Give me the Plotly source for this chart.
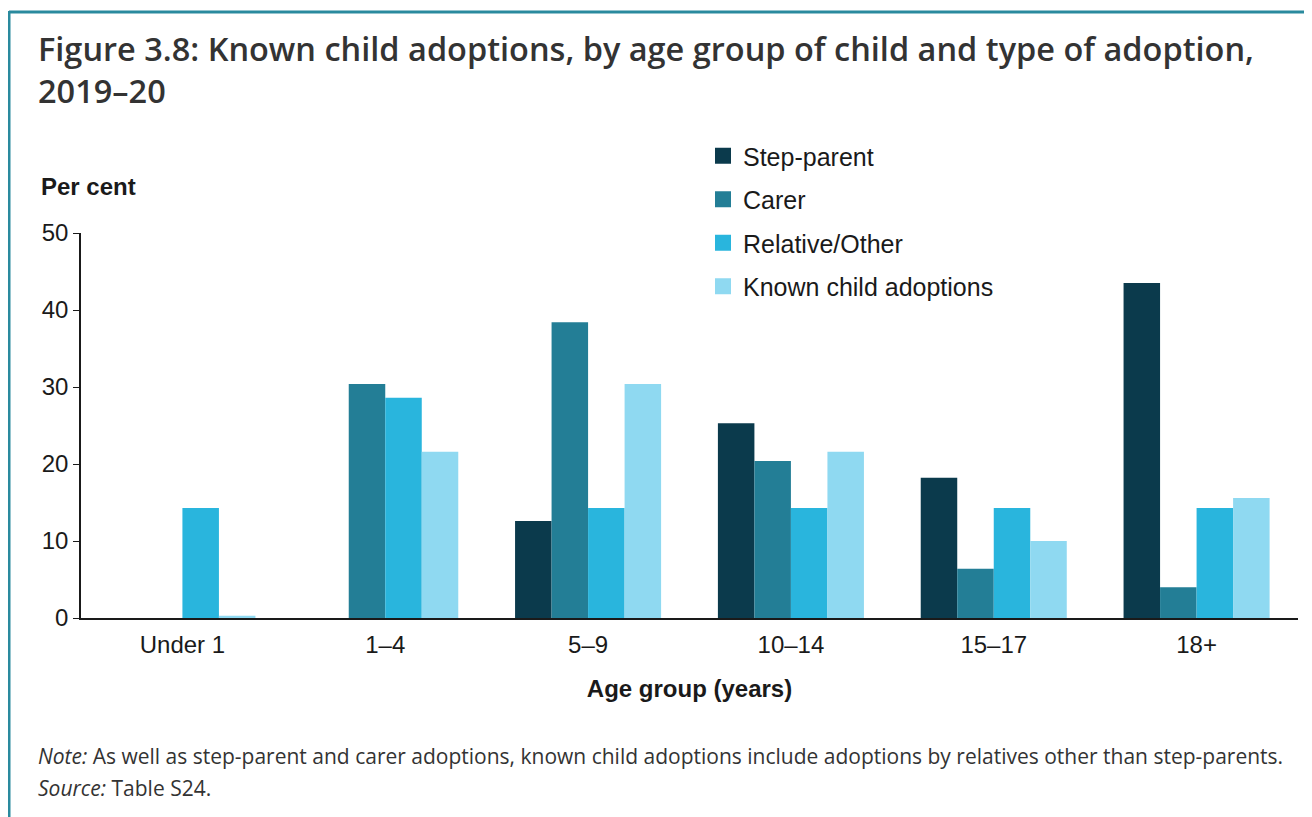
import plotly.graph_objects as go

categories = ["Under 1", "1–4", "5–9", "10–14", "15–17", "18+"]
series_names = ["Step-parent", "Carer", "Relative/Other", "Known child adoptions"]
step_parent = [0, 0, 12.6, 25.3, 18.2, 43.5]
carer = [0, 30.4, 38.4, 20.4, 6.4, 4.0]
relative_other = [14.3, 28.6, 14.3, 14.3, 14.3, 14.3]
known_child = [0.3, 21.6, 30.4, 21.6, 10.0, 15.6]
y_ticks = [0, 10, 20, 30, 40, 50]

colors = ["#0b3a4c", "#237e96", "#29b5dd", "#8fd9f1"]
values = [step_parent, carer, relative_other, known_child]

W, H = 1304, 809
L, R, T, B = 73, 14, 225, 199
pw, ph = W - L - R, H - T - B


def px(x):
    return (x - L) / pw


def py(y):
    return (H - B - y) / ph


fig = go.Figure()
for name, vals, col in zip(series_names, values, colors):
    fig.add_trace(go.Bar(x=categories, y=vals, name=name, marker_color=col,
                         marker_line_width=0, showlegend=False, legendgroup=name))
for name, col in zip(series_names, colors):
    fig.add_trace(go.Scatter(x=[None], y=[None], mode="markers", name=name,
                             legendgroup=name, showlegend=True,
                             marker=dict(symbol="square", size=19, color=col)))

fig.update_layout(
    width=W, height=H,
    margin=dict(l=L, r=R, t=T, b=B),
    paper_bgcolor="white", plot_bgcolor="white",
    barmode="group", bargap=0.28, bargroupgap=0,
    font=dict(family="Liberation Sans, Arial", color="#1a1a1a", size=24),
    legend=dict(x=px(695), y=py(125), xanchor="left", yanchor="top",
                font=dict(size=25, family="Liberation Sans, Arial", color="#1a1a1a"),
                traceorder="grouped", tracegroupgap=8, bgcolor="rgba(0,0,0,0)",
                itemwidth=30),
    xaxis=dict(type="category", range=[-0.5, 5.5], showline=True, linecolor="#1a1a1a",
               linewidth=1.5, ticks="", showgrid=False, zeroline=False,
               tickfont=dict(size=24), ticklabelstandoff=4,
               title=dict(text="<b>Age group (years)</b>", font=dict(size=24), standoff=24)),
    yaxis=dict(range=[0, 50], tickvals=y_ticks, showline=True, linecolor="#1a1a1a",
               linewidth=1.5, ticks="outside", ticklen=6, tickcolor="#1a1a1a",
               showgrid=False, zeroline=False, tickfont=dict(size=24)),
)

# Frame border (teal)
fig.add_shape(type="line", xref="paper", yref="paper", x0=px(1), x1=px(1320), y0=py(4), y1=py(4),
              line=dict(color="#2a8a9e", width=3))
fig.add_shape(type="line", xref="paper", yref="paper", x0=px(1), x1=px(1), y0=py(3), y1=py(830),
              line=dict(color="#2a8a9e", width=3))

# Title
fig.add_annotation(xref="paper", yref="paper", x=px(28), y=py(16), xanchor="left", yanchor="top",
                   align="left", showarrow=False,
                   text="Figure 3.8: Known child adoptions, by age group of child and type of adoption,<br>2019–20",
                   font=dict(family="Open Sans", size=32.5, color="#333333", weight=600))
# Y-axis title
fig.add_annotation(xref="paper", yref="paper", x=px(31), y=py(178), xanchor="left", yanchor="middle",
                   showarrow=False, text="<b>Per cent</b>", font=dict(size=24, color="#1a1a1a"))
# Notes
fig.add_annotation(xref="paper", yref="paper", x=px(28), y=py(748), xanchor="left", yanchor="middle",
                   showarrow=False, align="left",
                   text="<i>Note:</i> As well as step-parent and carer adoptions, known child adoptions include adoptions by relatives other than step-parents.",
                   font=dict(family="Open Sans", size=21, color="#333333"))
fig.add_annotation(xref="paper", yref="paper", x=px(28), y=py(780), xanchor="left", yanchor="middle",
                   showarrow=False, align="left",
                   text="<i>Source:</i> Table S24.",
                   font=dict(family="Open Sans", size=21, color="#333333"))

fig.write_html("out.html")
